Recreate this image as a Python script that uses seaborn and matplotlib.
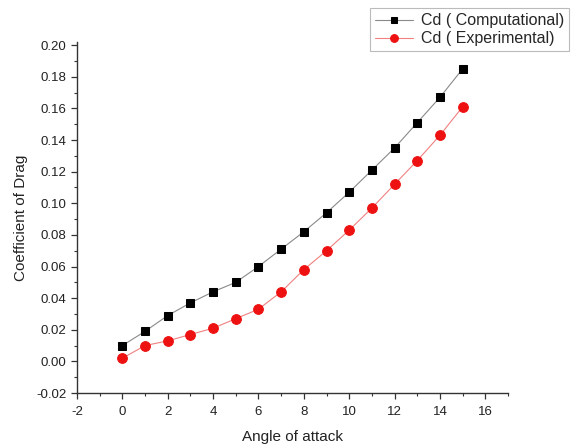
import matplotlib
matplotlib.use("Agg")
import matplotlib.pyplot as plt
from matplotlib.ticker import MultipleLocator
import seaborn as sns
import pandas as pd

# Drag coefficient vs angle of attack
angles = list(range(0, 16))
cd_computational = [0.010, 0.019, 0.029, 0.037, 0.044, 0.050, 0.060, 0.071,
                    0.082, 0.094, 0.107, 0.121, 0.135, 0.151, 0.167, 0.185]
cd_experimental = [0.002, 0.010, 0.013, 0.017, 0.021, 0.027, 0.033, 0.044,
                   0.058, 0.070, 0.083, 0.097, 0.112, 0.127, 0.143, 0.161]
series_names = ["Cd ( Computational)", "Cd ( Experimental)"]

df = pd.DataFrame({
    "Angle of attack": angles * 2,
    "Cd": cd_computational + cd_experimental,
    "series": [series_names[0]] * len(angles) + [series_names[1]] * len(angles),
})

sns.set_style("ticks")
plt.rcParams["font.family"] = ["Liberation Sans", "DejaVu Sans"]
plt.rcParams["axes.unicode_minus"] = False

fig = plt.figure(figsize=(5.77, 4.46), dpi=100)
ax = fig.add_axes([0.1334, 0.1188, 0.747, 0.787])

line_colors = {series_names[0]: "#8a8a8a", series_names[1]: "#f08080"}
marker_colors = {series_names[0]: "black", series_names[1]: "#ee1111"}
markers = {series_names[0]: "s", series_names[1]: "o"}
sizes = {series_names[0]: 6, series_names[1]: 7}

for name in series_names:
    sub = df[df["series"] == name]
    sns.lineplot(data=sub, x="Angle of attack", y="Cd", ax=ax,
                 color=line_colors[name], linewidth=0.8,
                 marker=markers[name], markersize=sizes[name],
                 markerfacecolor=marker_colors[name],
                 markeredgecolor=marker_colors[name], label=name,
                 legend=False)

ax.set_xlim(-2, 17)
ax.set_ylim(-0.02, 0.202)
ax.xaxis.set_major_locator(MultipleLocator(2))
ax.xaxis.set_minor_locator(MultipleLocator(1))
ax.yaxis.set_major_locator(MultipleLocator(0.02))
ax.yaxis.set_minor_locator(MultipleLocator(0.01))
ax.yaxis.set_major_formatter(plt.FuncFormatter(lambda v, p: f"{v:.2f}"))

for side in ["top", "right"]:
    ax.spines[side].set_visible(False)
for side in ["left", "bottom"]:
    ax.spines[side].set_color("#333333")
    ax.spines[side].set_linewidth(1.0)

ax.tick_params(axis="both", which="major", direction="out", length=4,
               width=0.9, colors="#333333", labelsize=9.5, labelcolor="#222222")
ax.tick_params(axis="x", which="major", pad=5)
ax.tick_params(axis="both", which="minor", direction="out", length=2.5,
               width=0.8, colors="#333333")

ax.set_xlabel("Angle of attack", fontsize=11, color="#222222", labelpad=9)
ax.set_ylabel("Coefficient of Drag", fontsize=11, color="#222222", labelpad=6)

handles, labels = ax.get_legend_handles_labels()
leg = fig.legend(handles, labels, loc="upper right",
                 bbox_to_anchor=(0.986, 0.981), fontsize=11.5, frameon=True,
                 fancybox=False, edgecolor="#aaaaaa", handlelength=2.4,
                 markerscale=0.8, borderpad=0.3, labelspacing=0.2,
                 handletextpad=0.5, borderaxespad=0)
leg.get_frame().set_linewidth(0.8)

fig.savefig("out.png", dpi=100, facecolor="white")
